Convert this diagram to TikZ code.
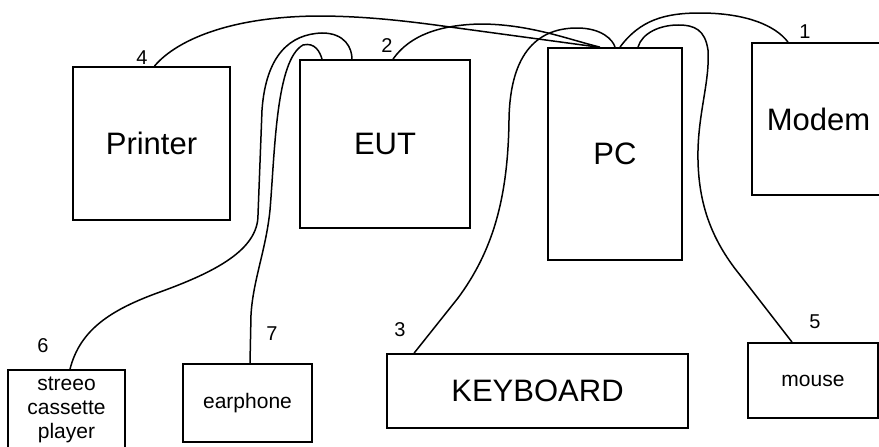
\documentclass[tikz,border=0pt]{standalone}
\usepackage{fontspec}
\setmainfont{Liberation Sans}
\tikzset{
  unit/.style={draw,line width=1.8pt,inner sep=0pt,font=\fontsize{31}{35}\selectfont},
  smallunit/.style={unit,font=\fontsize{21}{24}\selectfont,align=center},
  cable/.style={line width=1.5pt},
  portno/.style={font=\fontsize{20}{22}\selectfont}
}

\begin{document}
\begin{tikzpicture}[x=1pt,y=-1pt]
  \useasboundingbox (0,0) rectangle (879,447);
  % units
  \node[unit,minimum width=157pt,minimum height=153pt] (printer) at (151.5,143.5) {Printer};
  \node[unit,minimum width=170pt,minimum height=168pt] (eut) at (385,144) {EUT};
  \node[unit,minimum width=134pt,minimum height=212pt] (pc) at (615,154) {PC};
  \node[unit,minimum width=133pt,minimum height=152pt] (modem) at (818.5,119) {Modem};
  \node[smallunit,minimum width=117pt,minimum height=80pt] (stereo) at (66.5,410)
    {streeo\\cassette\\player};
  \node[smallunit,minimum width=129pt,minimum height=78pt] (earphone) at (247.5,403) {earphone};
  \node[unit,minimum width=301pt,minimum height=74pt] (kbd) at (537.5,391) {KEYBOARD};
  \node[smallunit,minimum width=130pt,minimum height=75pt] (mouse) at (813,380.5) {mouse};
  % cables
  \draw[cable] ([xshift=3pt]printer.north) .. controls (172,45) and (220,17) .. (317,16)
    .. controls (360,16) and (400,20) .. (450,27) -- ([xshift=-17pt]pc.north);
  \draw[cable] ([xshift=8pt]eut.north) .. controls (410,35) and (440,25) .. (480,24)
    .. controls (530,24) and (570,40) .. ([xshift=-15pt]pc.north);
  \draw[cable] ([xshift=28pt]kbd.north west) -- (458,298)
    .. controls (492,252) and (508,200) .. (509,120)
    .. controls (510,50) and (540,28) .. (577,28)
    .. controls (602,28) and (613,40) .. (pc.north);
  \draw[cable] ([xshift=-30.5pt]modem.north) .. controls (775,25) and (745,13) .. (700,13)
    .. controls (665,13) and (640,20) .. ([xshift=5pt]pc.north);
  \draw[cable] ([xshift=-21pt]mouse.north) -- (740,275)
    .. controls (710,238) and (697,200) .. (698,150)
    .. controls (699,110) and (710,80) .. (708,50)
    .. controls (705,30) and (695,25) .. (678,25)
    .. controls (660,25) and (642,33) .. ([xshift=23pt]pc.north);
  \draw[cable] ([xshift=3.5pt]stereo.north) .. controls (80,330) and (110,310) .. (160,292)
    .. controls (215,272) and (258,250) .. (258,215) -- (262,110)
    .. controls (266,55) and (290,34) .. (322,33)
    .. controls (345,33) and (352,48) .. ([xshift=-33pt]eut.north);
  \draw[cable] ([xshift=2.5pt]earphone.north) -- (251,315)
    .. controls (253,280) and (266,250) .. (270,210)
    .. controls (275,150) and (276,60) .. (303,45)
    .. controls (315,42) and (320,52) .. ([xshift=-63pt]eut.north);
  % port numbers
  \node[portno] (p1) at (805,32) {1};
  \node[portno] (p2) at (387,46) {2};
  \node[portno] (p3) at (400,330) {3};
  \node[portno] (p4) at (142,58) {4};
  \node[portno] (p5) at (815,322) {5};
  \node[portno] (p6) at (43,346) {6};
  \node[portno] (p7) at (272,334) {7};
\end{tikzpicture}
\end{document}
